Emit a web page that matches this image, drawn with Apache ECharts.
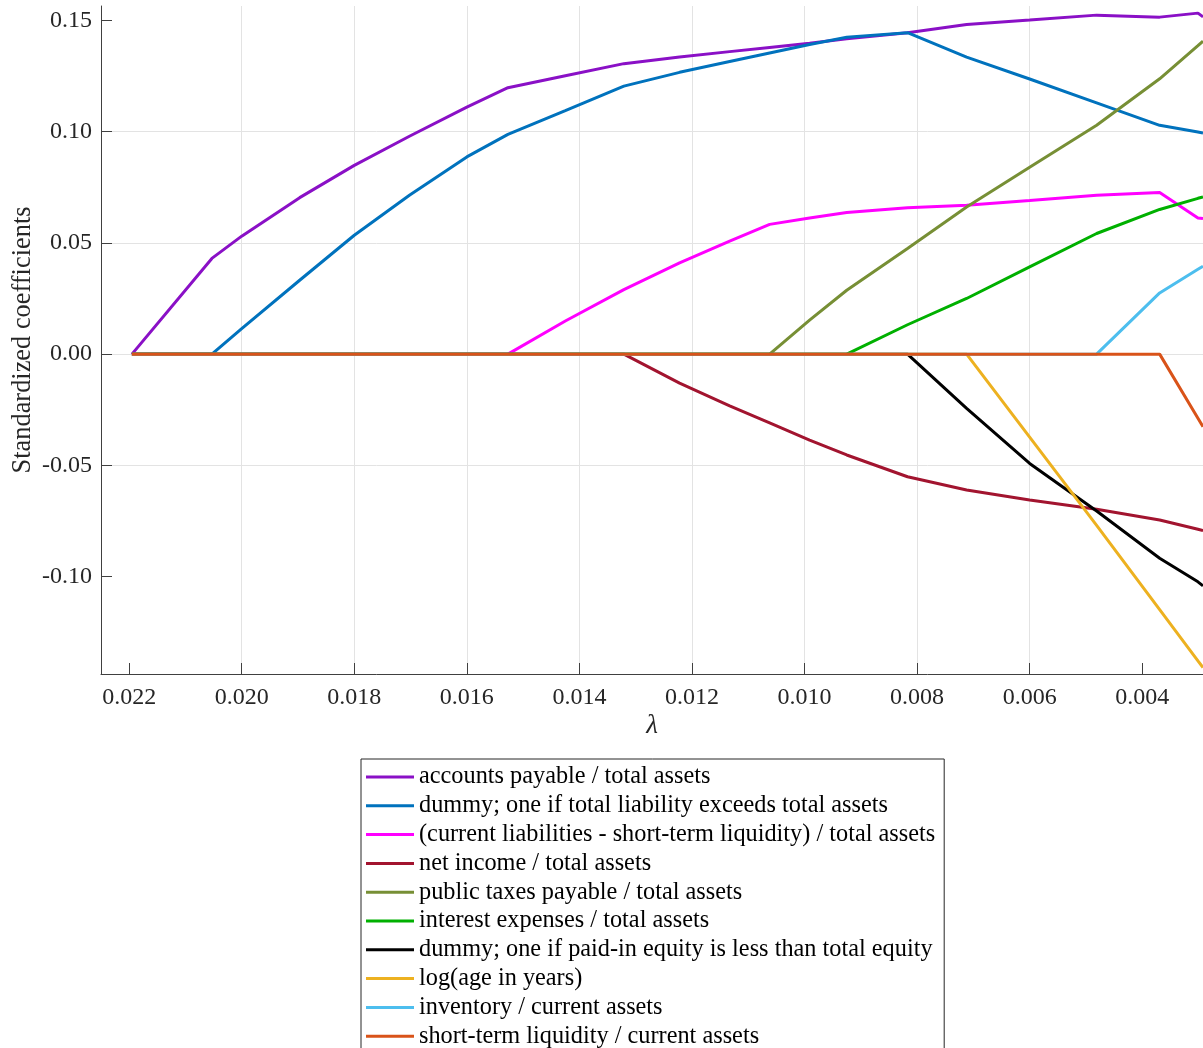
<!DOCTYPE html>
<html>
<head>
<meta charset="utf-8">
<script src="https://cdn.jsdelivr.net/npm/echarts@6/dist/echarts.min.js"></script>
<style>
  html, body { margin: 0; padding: 0; background: #ffffff; }
  #chart { width: 1203px; height: 1048px; }
</style>
</head>
<body>
<div id="chart"></div>
<script>
// Lasso path: regularisation strength (lambda) and standardized coefficients
const lambda = [0.02195, 0.02053, 0.0200, 0.01897, 0.0180, 0.01702, 0.0160, 0.01527, 0.01425, 0.01321, 0.01222,
                0.01133, 0.01062, 0.00991, 0.00925, 0.00817, 0.00712, 0.00600, 0.00481, 0.00369, 0.00301, 0.00292];

const accountsPayable = [0, 0.0430, 0.0530, 0.0703, 0.0848, 0.0979, 0.1110, 0.1197, 0.1251, 0.1305, 0.1335,
                         0.1359, 0.1378, 0.1397, 0.1417, 0.1444, 0.1481, 0.1501, 0.1523, 0.1514, 0.1532, 0.1515];
const dummyLiability = [0, 0, 0.0115, 0.0332, 0.0534, 0.0714, 0.0886, 0.0987, 0.1094, 0.1204, 0.1266,
                        0.1315, 0.1353, 0.1391, 0.1424, 0.1444, 0.1334, 0.1236, 0.1129, 0.1028, 0.0998, 0.0993];
const currentLiabilities = [0, 0, 0, 0, 0, 0, 0, 0, 0.0149, 0.0290, 0.0410,
                            0.0508, 0.0583, 0.0612, 0.0636, 0.0658, 0.0669, 0.0690, 0.0714, 0.0726, 0.0612, 0.0609];
const netIncome = [0, 0, 0, 0, 0, 0, 0, 0, 0, 0, -0.0130,
                   -0.0232, -0.0309, -0.0386, -0.0453, -0.0551, -0.0610, -0.0655, -0.0697, -0.0745, -0.0787, -0.0793];
const publicTaxes = [0, 0, 0, 0, 0, 0, 0, 0, 0, 0, 0,
                     0, 0, 0.0153, 0.0287, 0.0475, 0.0661, 0.0840, 0.1028, 0.1237, 0.1386, 0.1406];
const interestExpenses = [0, 0, 0, 0, 0, 0, 0, 0, 0, 0, 0,
                          0, 0, 0, 0, 0.0132, 0.0250, 0.0392, 0.0542, 0.0650, 0.0700, 0.0706];
const dummyPaidIn = [0, 0, 0, 0, 0, 0, 0, 0, 0, 0, 0,
                     0, 0, 0, 0, 0, -0.0244, -0.0491, -0.0705, -0.0917, -0.1023, -0.1041];
const logAge = [0, 0, 0, 0, 0, 0, 0, 0, 0, 0, 0,
                0, 0, 0, 0, 0, 0, -0.0373, -0.0769, -0.1148, -0.1378, -0.1408];
const inventory = [0, 0, 0, 0, 0, 0, 0, 0, 0, 0, 0,
                   0, 0, 0, 0, 0, 0, 0, 0, 0.0275, 0.0381, 0.0395];
const shortTermLiquidity = [0, 0, 0, 0, 0, 0, 0, 0, 0, 0, 0,
                            0, 0, 0, 0, 0, 0, 0, 0, 0, -0.0288, -0.0326];

const seriesNames = [
  'accounts payable / total assets',
  'dummy; one if total liability exceeds total assets',
  '(current liabilities - short-term liquidity) / total assets',
  'net income / total assets',
  'public taxes payable / total assets',
  'interest expenses / total assets',
  'dummy; one if paid-in equity is less than total equity',
  'log(age in years)',
  'inventory / current assets',
  'short-term liquidity / current assets'
];
const seriesValues = [accountsPayable, dummyLiability, currentLiabilities, netIncome, publicTaxes,
                      interestExpenses, dummyPaidIn, logAge, inventory, shortTermLiquidity];
const seriesColors = ['#8A10C6', '#0072BD', '#FF00FF', '#A2142F', '#778F35',
                      '#00B000', '#000000', '#EDB120', '#4DBEEE', '#D95319'];

const xTicks = [0.004, 0.006, 0.008, 0.010, 0.012, 0.014, 0.016, 0.018, 0.020, 0.022];
const yTicks = [-0.10, -0.05, 0.00, 0.05, 0.10, 0.15];

const FONT = '"Liberation Serif", "Times New Roman", serif';
const AXIS_COLOR = '#404040';
const TEXT_COLOR = '#262626';
const GRID_COLOR = '#e3e3e3';

function onTicks(ticks, v) {
  return ticks.some(t => Math.abs(t - v) < 1e-9);
}

const chart = echarts.init(document.getElementById('chart'), null, { renderer: 'canvas' });

chart.setOption({
  animation: false,
  backgroundColor: '#ffffff',
  grid: { left: 101, right: 0, top: 6, bottom: 374, containLabel: false, outerBoundsMode: 'none' },
  xAxis: {
    type: 'value',
    inverse: true,
    min: 0.00292,
    max: 0.0225,
    splitNumber: 10,
    axisLine: { onZero: false, lineStyle: { color: AXIS_COLOR, width: 1 } },
    axisTick: { inside: true, length: 11, customValues: xTicks, lineStyle: { color: AXIS_COLOR } },
    axisLabel: {
      customValues: xTicks,
      margin: 12,
      color: TEXT_COLOR,
      fontFamily: FONT,
      fontSize: 24,
      formatter: v => onTicks(xTicks, v) ? v.toFixed(3) : ''
    },
    splitLine: { show: true, showMinLine: false, showMaxLine: false, lineStyle: { color: GRID_COLOR, width: 1 } },
    name: 'λ',
    nameLocation: 'middle',
    nameGap: 38,
    nameMoveOverlap: false,
    nameTextStyle: { fontFamily: FONT, fontSize: 27, fontStyle: 'italic', color: TEXT_COLOR }
  },
  yAxis: {
    type: 'value',
    min: -0.1437,
    max: 0.1564,
    splitNumber: 6,
    axisLine: { show: true, onZero: false, lineStyle: { color: AXIS_COLOR, width: 1 } },
    axisTick: { show: true, inside: true, length: 11, customValues: yTicks, lineStyle: { color: AXIS_COLOR } },
    axisLabel: {
      customValues: yTicks,
      margin: 9,
      color: TEXT_COLOR,
      fontFamily: FONT,
      fontSize: 24,
      formatter: v => onTicks(yTicks, v) ? v.toFixed(2) : ''
    },
    splitLine: { show: true, showMinLine: false, showMaxLine: false, lineStyle: { color: GRID_COLOR, width: 1 } },
    name: 'Standardized coefficients',
    nameLocation: 'middle',
    nameGap: 65,
    nameMoveOverlap: false,
    nameTextStyle: { fontFamily: FONT, fontSize: 26.4, color: TEXT_COLOR }
  },
  legend: {
    orient: 'vertical',
    left: 361,
    top: 759,
    height: 320,
    padding: [6, 9, 6, 5],
    icon: 'rect',
    itemWidth: 48,
    itemHeight: 3,
    itemGap: 4.8,
    borderColor: '#262626',
    borderWidth: 1,
    backgroundColor: '#ffffff',
    selectedMode: false,
    textStyle: { fontFamily: FONT, fontSize: 24.3, lineHeight: 24, color: '#000000' },
    data: seriesNames
  },
  series: seriesNames.map((name, i) => ({
    name: name,
    type: 'line',
    symbol: 'none',
    showSymbol: false,
    z: 2 + i,
    color: seriesColors[i],
    lineStyle: { color: seriesColors[i], width: 3 },
    emphasis: { disabled: true },
    data: lambda.map((l, k) => [l, seriesValues[i][k]])
  }))
});
</script>
</body>
</html>
